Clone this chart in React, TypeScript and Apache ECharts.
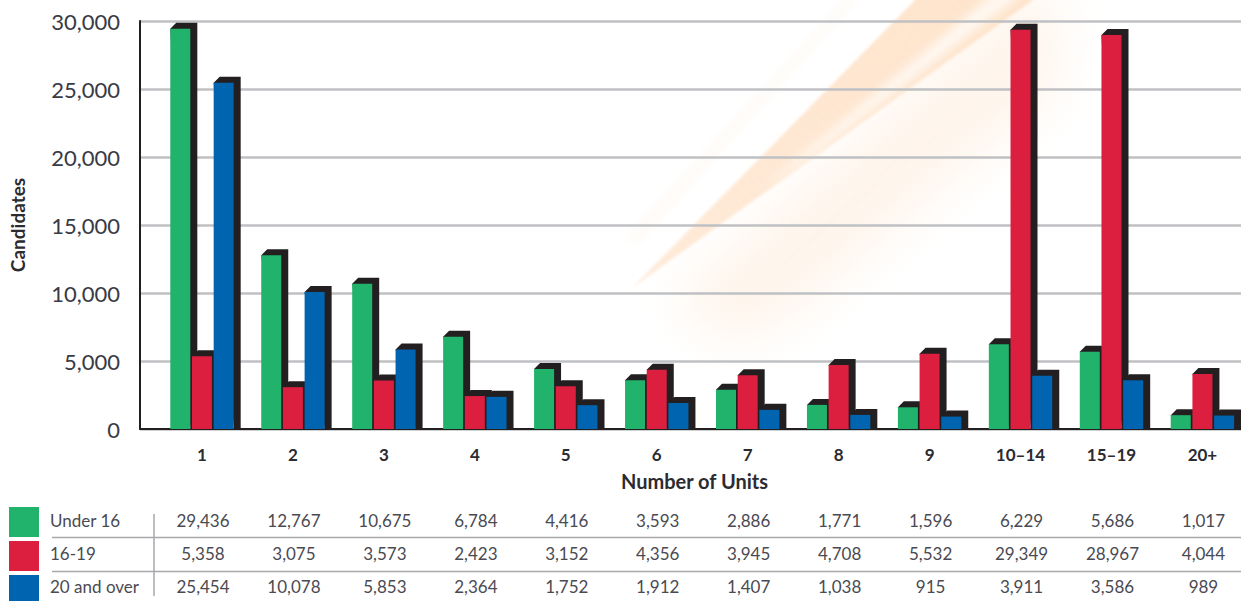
import React, { useEffect, useRef } from "react";
import * as echarts from "echarts";

const categories = ["1", "2", "3", "4", "5", "6", "7", "8", "9", "10–14", "15–19", "20+"];
const under16 = [29436, 12767, 10675, 6784, 4416, 3593, 2886, 1771, 1596, 6229, 5686, 1017];
const age16to19 = [5358, 3075, 3573, 2423, 3152, 4356, 3945, 4708, 5532, 29349, 28967, 4044];
const age20over = [25454, 10078, 5853, 2364, 1752, 1912, 1407, 1038, 915, 3911, 3586, 989];
const seriesNames = ["Under 16", "16-19", "20 and over"];
const seriesColors = ["#21b36c", "#dc1f3e", "#0064b1"];
const seriesValues = [under16, age16to19, age20over];

const DARK = "#231f20";
const FONT = "Lato, 'Open Sans', sans-serif";

const flareSvg = `<svg xmlns="http://www.w3.org/2000/svg" width="1241" height="601">
<defs>
<filter id="a" x="-30%" y="-30%" width="160%" height="160%"><feGaussianBlur stdDeviation="24"/></filter>
<filter id="b" x="-30%" y="-30%" width="160%" height="160%"><feGaussianBlur stdDeviation="1.5"/></filter>
<filter id="c" x="-30%" y="-30%" width="160%" height="160%"><feGaussianBlur stdDeviation="5"/></filter>
<linearGradient id="g" x1="632" y1="288" x2="960" y2="0" gradientUnits="userSpaceOnUse"><stop offset="0" stop-color="#fee6d0" stop-opacity="0.8"/><stop offset="1" stop-color="#fee4cc"/></linearGradient>
</defs>
<polygon points="670,300 1000,10 1060,-20 1060,90 930,200 790,320 730,345" fill="#feeedf" opacity="0.6" filter="url(#a)"/>
<polygon points="632,288 920,-5 1040,-5" fill="url(#g)" filter="url(#b)"/>
<polygon points="760,190 1000,-12 1030,-12 800,165" fill="#fffaf4" opacity="0.9" filter="url(#c)"/>
<polygon points="640,240 860,-5 850,-5 625,240" fill="#fdf5ec" opacity="0.5" filter="url(#c)"/>
</svg>`;

function bar3d(colorIndex: number) {
  return (params: any, api: any) => {
    const band = api.size([1, 0])[0];
    const [cx, top] = api.coord([api.value(0), api.value(1)]);
    const [, base] = api.coord([api.value(0), 0]);
    const w = band * 0.22;
    const x0 = cx + (colorIndex - 1) * band * 0.2385 - w / 2;
    const x1 = x0 + w;
    const dx = 6;
    const dy = 6;
    return {
      type: "group",
      children: [
        {
          type: "polygon",
          shape: {
            points: [
              [x0, top],
              [x0 + dx, top - dy],
              [x1 + dx + 1, top - dy],
              [x1 + dx + 1, base],
              [x1, base],
            ],
          },
          style: { fill: DARK },
        },
        {
          type: "rect",
          shape: { x: x0, y: top, width: w, height: base - top },
          style: { fill: seriesColors[colorIndex] },
        },
      ],
    };
  };
}

function tableGraphics() {
  const els: any[] = [];
  const textColor = "#4a4a52";
  const rowY = [520.5, 553.5, 586.5];
  const swatchY = [507, 541, 575];
  const bandW = 90.95;
  seriesNames.forEach((name, r) => {
    els.push({
      type: "rect",
      shape: { x: 9, y: swatchY[r], width: 30, height: 30 },
      style: { fill: seriesColors[r] },
    });
    els.push({
      type: "text",
      x: 50,
      y: rowY[r],
      style: { text: name, fill: textColor, font: `17px ${FONT}`, textAlign: "left", textVerticalAlign: "middle" },
    });
    seriesValues[r].forEach((v, i) => {
      els.push({
        type: "text",
        x: 203 + i * bandW,
        y: rowY[r],
        style: {
          text: v.toLocaleString("en-US"),
          fill: textColor,
          font: `17px ${FONT}`,
          textAlign: "center",
          textVerticalAlign: "middle",
        },
      });
    });
  });
  [537.5, 571.5].forEach((y) => {
    els.push({
      type: "line",
      shape: { x1: 52, y1: y, x2: 1241, y2: y },
      style: { stroke: "#a7a9ac", lineWidth: 1.5 },
    });
  });
  els.push({
    type: "line",
    shape: { x1: 154, y1: 514, x2: 154, y2: 596 },
    style: { stroke: "#a7a9ac", lineWidth: 1.5 },
  });
  return els;
}

export default function App() {
  const ref = useRef<HTMLDivElement>(null);
  useEffect(() => {
    if (!ref.current) return;
    const chart = echarts.init(ref.current, undefined, { renderer: "svg" });
    chart.setOption({
      animation: false,
      backgroundColor: "#ffffff",
      grid: [
        { left: 139, top: 21, width: 1102, height: 408 },
        { left: 156.5, top: 21, width: 1091.4, height: 408 },
      ],
      xAxis: [
        {
          type: "value",
          gridIndex: 0,
          min: 0,
          max: 1,
          splitLine: { show: false },
          axisTick: { show: false },
          axisLabel: { show: false },
          axisLine: { show: true, onZero: false, lineStyle: { color: DARK, width: 2 } },
          name: "Number of Units",
          nameLocation: "middle",
          nameGap: 42,
          nameTextStyle: { color: "#2b2b30", fontFamily: FONT, fontWeight: "bold", fontSize: 20, padding: [0, 0, 0, 8] },
        },
        {
          type: "category",
          gridIndex: 1,
          data: categories,
          axisLine: { show: false },
          axisTick: { show: false },
          axisLabel: { color: "#2b2b30", fontFamily: FONT, fontWeight: "bold", fontSize: 17, margin: 17 },
        },
      ],
      yAxis: [
        {
          type: "value",
          gridIndex: 0,
          min: 0,
          max: 30000,
          interval: 5000,
          axisLine: { show: true, lineStyle: { color: DARK, width: 2 } },
          axisTick: { show: false },
          splitLine: { show: true, lineStyle: { color: "#bfc0c3", width: 2.5 } },
          axisLabel: {
            color: "#3a3a45",
            fontFamily: FONT,
            fontSize: 22,
            margin: 20,
            formatter: (v: number) => v.toLocaleString("en-US"),
          },
          name: "Candidates",
          nameLocation: "middle",
          nameGap: 113,
          nameTextStyle: { color: "#2b2b30", fontFamily: FONT, fontWeight: "bold", fontSize: 19 },
        },
        {
          type: "value",
          gridIndex: 1,
          min: 0,
          max: 30000,
          interval: 5000,
          show: false,
          splitLine: { show: false },
        },
      ],
      graphic: [
        {
          type: "image",
          z: -10,
          silent: true,
          x: 0,
          y: 0,
          style: {
            image: "data:image/svg+xml;utf8," + encodeURIComponent(flareSvg),
            width: 1241,
            height: 601,
          },
        },
        ...tableGraphics(),
      ],
      series: seriesValues.map((vals, k) => ({
        type: "custom",
        name: seriesNames[k],
        xAxisIndex: 1,
        yAxisIndex: 1,
        clip: false,
        z: 3 + k,
        encode: { x: 0, y: 1 },
        data: vals.map((v, i) => [i, v]),
        renderItem: bar3d(k),
      })),
    });
    return () => chart.dispose();
  }, []);
  return (
    <div style={{ position: "absolute", left: 0, top: 0, width: 1241, height: 601, overflow: "hidden" }}>
      <div ref={ref} style={{ width: 1260, height: 601 }} />
    </div>
  );
}
